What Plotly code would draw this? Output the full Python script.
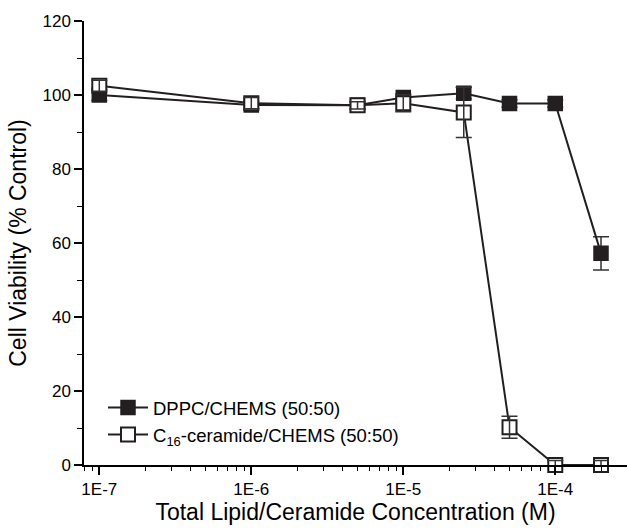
import plotly.graph_objects as go

# ---- data ----
conc = [1e-7, 1e-6, 5e-6, 1e-5, 2.5e-5, 5e-5, 1e-4, 2e-4]
dppc = [100.0, 97.3, 97.2, 99.3, 100.5, 97.7, 97.7, 57.2]
dppc_err = [1.5, 1.0, 1.0, 1.0, 1.5, 1.0, 1.0, 4.5]
cer = [102.5, 97.8, 97.2, 97.8, 95.3, 10.2, 0.0, 0.0]
cer_err = [1.5, 1.5, 1.0, 2.3, 6.8, 3.0, 1.2, 1.2]
tick_vals = [1e-7, 1e-6, 1e-5, 1e-4]
tick_text = ["1E-7", "1E-6", "1E-5", "1E-4"]
dppc_name = "DPPC/CHEMS (50:50)"
cer_name = "C<sub>16</sub>-ceramide/CHEMS (50:50)"

INK = "#231f20"
FONT = "Liberation Sans, Arial, sans-serif"
minor_vals = [m * 10.0 ** e for e in range(-8, -3) for m in range(2, 10)]

fig = go.Figure()

fig.add_trace(go.Scatter(
    x=conc, y=dppc, name=dppc_name, mode="lines+markers",
    line=dict(color=INK, width=2),
    marker=dict(symbol="square", size=14, color=INK, line=dict(color=INK, width=1.5)),
    error_y=dict(type="data", array=dppc_err, color="#333333", thickness=1.5, width=8),
    cliponaxis=False,
))
fig.add_trace(go.Scatter(
    x=conc, y=cer, name=cer_name, mode="lines+markers",
    line=dict(color=INK, width=2),
    marker=dict(symbol="square", size=14, color="white", line=dict(color=INK, width=2)),
    cliponaxis=False,
))
# error bars of the open series drawn over the markers
fig.add_trace(go.Scatter(
    x=conc, y=cer, mode="markers", showlegend=False, hoverinfo="skip",
    marker=dict(size=1, opacity=0),
    error_y=dict(type="data", array=cer_err, color="#333333", thickness=1.5, width=8),
    cliponaxis=False,
))

xrange = [-7.1007, -3.528]
fig.update_layout(
    width=627, height=530,
    margin=dict(l=84, r=0, t=21, b=65),
    paper_bgcolor="white", plot_bgcolor="white",
    font=dict(family=FONT, color="black", size=17),
    showlegend=True,
    legend=dict(x=0.035, y=0.025, xanchor="left", yanchor="bottom",
                bgcolor="rgba(0,0,0,0)", font=dict(size=18.5, family=FONT),
                itemwidth=40, tracegroupgap=0),
    xaxis=dict(
        type="log", range=xrange, showgrid=False, zeroline=False,
        showline=True, linecolor="black", linewidth=1.5,
        ticks="outside", ticklen=8, tickwidth=1.5, tickcolor="black",
        tickvals=tick_vals, ticktext=tick_text,
        tickfont=dict(size=17),
        minor=dict(ticks="outside", ticklen=4, tickwidth=1, tickcolor="black",
                   tickvals=minor_vals, showgrid=False),
        title=dict(text="Total Lipid/Ceramide Concentration (M)",
                   font=dict(size=23), standoff=6),
    ),
    xaxis2=dict(
        type="log", range=xrange, overlaying="x", side="top", anchor="y",
        showgrid=False, zeroline=False, showline=True, linecolor="black",
        linewidth=1.5, ticks="inside", ticklen=5, tickwidth=1, tickcolor="black",
        tickvals=tick_vals, showticklabels=False,
        minor=dict(ticks="inside", ticklen=3, tickwidth=1, tickcolor="black",
                   tickvals=minor_vals, showgrid=False),
    ),
    yaxis=dict(
        range=[0, 120], showgrid=False, zeroline=False,
        showline=True, linecolor="black", linewidth=1.5,
        ticks="outside", ticklen=8, tickwidth=1.5, tickcolor="black",
        tickvals=[0, 20, 40, 60, 80, 100, 120],
        tickfont=dict(size=17),
        minor=dict(ticks="outside", ticklen=5, tickwidth=1, tickcolor="black",
                   dtick=10, showgrid=False),
        title=dict(text="Cell Viability (% Control)", font=dict(size=23), standoff=9),
    ),
)

fig.write_html("out.html")
